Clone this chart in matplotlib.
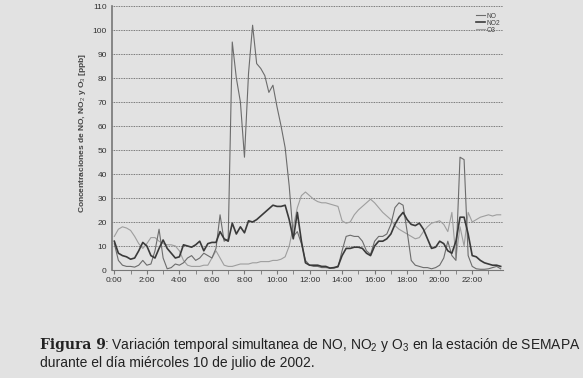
import matplotlib.pyplot as plt
import numpy as np

# quarter-hour readings, 0:00 .. 23:45 (ppb)
no = [11, 4, 2, 1.5, 1.5, 1.2, 2, 4, 2, 2.5, 8, 17, 5, 0.5, 1, 2.5,
      2, 3, 5, 6, 4, 5, 7, 6, 5, 9, 23, 12, 13, 95, 80, 70,
      47, 82, 102, 86, 84, 81, 74, 77, 68, 60, 51, 35, 14, 16, 11, 4,
      2, 1.5, 1.5, 1, 1, 0.8, 0.8, 1.2, 8, 14, 14.5, 14, 14, 12, 8, 6.5,
      12, 14, 14, 15, 19, 26, 28, 27, 16, 4, 2, 1.5, 1, 1, 0.5, 1,
      2, 5, 12, 6, 4, 47, 46, 6, 1.5, 0.5, 0.3, 0.3, 0.5, 1, 1.5, 0.5]
no2 = [12, 7, 6, 5.5, 4.5, 5, 8, 11.5, 10, 6, 5, 9, 12.5, 9, 7, 5,
       5.5, 10.5, 10, 9.5, 10.5, 12, 8, 11, 11.5, 11.5, 16, 13, 12, 19.5, 15, 18,
       15.5, 20.5, 20, 21, 22.5, 24, 25.5, 27, 26.5, 26.5, 27, 21, 13, 24, 12, 3,
       2, 2, 2, 1.5, 1.5, 0.8, 1, 1.5, 6, 9, 9, 9.5, 9.5, 9, 7, 6,
       10, 12, 12, 13, 15, 19, 22, 24, 21, 19, 18.5, 19.5, 17, 13, 9, 9.5,
       12, 11, 8, 7, 12, 22, 22, 15, 6, 5.5, 4, 3, 2.5, 2, 2, 1.5]
o3 = [14, 17, 18, 17.5, 16.5, 14, 11, 9, 11, 13.5, 13.5, 12, 11, 10.5, 10.5, 10,
      8, 4, 2, 1.5, 1.5, 1.5, 2, 2, 5, 8, 5, 2, 1.5, 1.5, 2, 2.5,
      2.5, 2.5, 3, 3, 3.5, 3.5, 3.5, 4, 4, 4.5, 5.5, 10, 18, 26, 31, 32.5,
      31, 29.5, 28.5, 28, 28, 27.5, 27, 26.5, 20.5, 19.5, 20, 23, 25, 26.5, 28, 29.5,
      28, 26, 24, 22.5, 21, 18.5, 17, 16, 15, 14, 13, 13.5, 16, 18, 19.5, 20,
      20.5, 19, 16, 24, 5, 18, 10, 24, 20, 21, 22, 22.5, 23, 22.5, 23, 23]
hour_labels = ["0:00", "2:00", "4:00", "6:00", "8:00", "10:00",
               "12:00", "14:00", "16:00", "18:00", "20:00", "22:00"]

BG = "#e2e2e2"
plt.rcParams["font.family"] = ["Liberation Sans", "DejaVu Sans"]
plt.rcParams["mathtext.fontset"] = "custom"
plt.rcParams["mathtext.rm"] = "Liberation Sans"
plt.rcParams["mathtext.bf"] = "Liberation Sans:bold"

fig = plt.figure(figsize=(5.83, 3.78), dpi=100, facecolor=BG)
ax = fig.add_axes([0.1926, 0.2857, 0.6697, 0.6984])
ax.set_facecolor(BG)

x = np.arange(len(no))
l_o3, = ax.plot(x, o3, color="#9e9e9e", lw=0.8)
l_no, = ax.plot(x, no, color="#6c6c6c", lw=0.8)
l_no2, = ax.plot(x, no2, color="#3a3a3a", lw=1.2)

ax.set_xlim(-0.5, len(no) - 0.5)
ax.set_ylim(0, 110)
ax.set_yticks(range(0, 111, 10))
ax.yaxis.grid(True, linestyle=(0, (1, 1)), color="#555555", lw=0.6)
ax.set_axisbelow(True)

ax.set_xticks(np.arange(0, 96, 8))
ax.set_xticklabels(hour_labels)
ax.set_xticks(np.arange(0, 96, 4), minor=True)
ax.tick_params(axis="x", which="both", length=3, color="#777777",
               labelsize=6, labelcolor="#333333", pad=2)
ax.tick_params(axis="y", length=0, labelsize=6, labelcolor="#333333", pad=4)

for s in ["top", "right"]:
    ax.spines[s].set_visible(False)
ax.spines["left"].set_color("#777777")
ax.spines["left"].set_linewidth(1.2)
ax.spines["bottom"].set_color("#777777")

ax.set_ylabel("Concentraciones de NO, NO$_2$ y O$_3$ [ppb]", fontsize=6,
              fontweight="bold", color="#444444")
ax.yaxis.set_label_coords(-0.062, 0.52)

ax.legend([l_no, l_no2, l_o3], ["NO", "NO2", "O3"], loc="upper right",
          bbox_to_anchor=(1.0, 0.985), fontsize=4.8, frameon=False,
          handlelength=1.4, handletextpad=0.2, labelspacing=0.0,
          borderaxespad=0, labelcolor="#444444")

# caption, sized so the first line spans x = 40 .. 581 px
W = fig.bbox.width
y1 = 1 - 349 / 378
y2 = 1 - 367 / 378
fs = 10
t1 = fig.text(40 / W, y1, "Figura 9", family="DejaVu Serif",
              fontweight="bold", fontsize=fs, color="#222222", va="baseline")
t2 = fig.text(0, y1,
              ": Variación temporal simultanea de NO, NO$_2$ y O$_3$ en la estación de SEMAPA",
              fontsize=fs, color="#222222", va="baseline")
fig.canvas.draw()
r = fig.canvas.get_renderer()
total = t1.get_window_extent(r).width + t2.get_window_extent(r).width
fs = fs * 543 / total
t1.set_fontsize(fs)
t2.set_fontsize(fs)
fig.canvas.draw()
t2.set_x((t1.get_window_extent(r).x1 - 2) / W)
fig.text(40 / W, y2, "durante el día miércoles 10 de julio de 2002.",
         fontsize=fs, color="#222222", va="baseline")

fig.savefig("out.png", dpi=100, facecolor=BG)
